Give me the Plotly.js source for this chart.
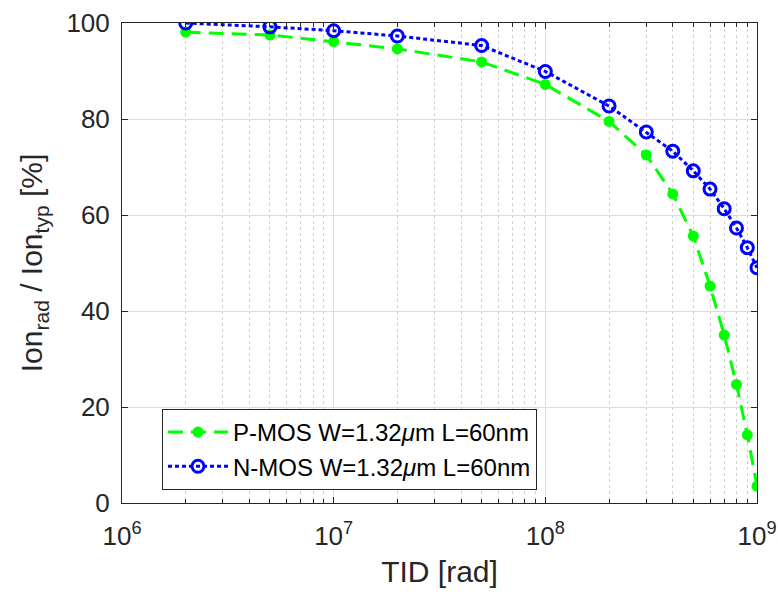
<!DOCTYPE html>
<html><head><meta charset="utf-8">
<script src="https://cdn.plot.ly/plotly-3.0.1.min.js"></script>
<style>html,body{margin:0;padding:0;background:#fff;}</style>
</head><body>
<div id="chart" style="width:778px;height:597px;"></div>
<script>
const tid = [2e6, 5e6, 1e7, 2e7, 5e7, 1e8, 2e8, 3e8, 4e8, 5e8, 6e8, 7e8, 8e8, 9e8, 1e9];
const pmos = [98.1, 97.5, 96.1, 94.6, 91.9, 87.2, 79.5, 72.5, 64.4, 55.6, 45.2, 35.0, 24.7, 14.2, 3.5];
const nmos = [100.0, 99.2, 98.4, 97.3, 95.3, 89.9, 82.7, 77.3, 73.3, 69.2, 65.4, 61.3, 57.3, 53.2, 49.0];
const xTickVals = [1e6, 1e7, 1e8, 1e9];
const xTickText = ['10<sup>6</sup>', '10<sup>7</sup>', '10<sup>8</sup>', '10<sup>9</sup>'];
const yTickVals = [0, 20, 40, 60, 80, 100];

const font = 'Liberation Sans, Arial, Helvetica, sans-serif';
const traces = [
  {x: tid, y: pmos, type: 'scatter', mode: 'lines+markers',
   name: 'P-MOS W=1.32<i>μ</i>m L=60nm',
   line: {color: '#00ff00', width: 3, dash: '15px,8px'},
   marker: {color: '#00ff00', size: 11, symbol: 'circle'}},
  {x: tid, y: nmos, type: 'scatter', mode: 'lines+markers',
   name: 'N-MOS W=1.32<i>μ</i>m L=60nm',
   line: {color: '#0000ff', width: 3, dash: '4px,3px'},
   marker: {color: '#0000ff', size: 12, symbol: 'circle-open', line: {color: '#0000ff', width: 3}}}
];
const layout = {
  width: 778, height: 597,
  margin: {l: 122, r: 21, t: 23, b: 94},
  paper_bgcolor: '#fff', plot_bgcolor: '#fff',
  font: {family: font, color: '#262626', size: 26},
  showlegend: true,
  legend: {x: 0.063, y: 0.196, xanchor: 'left', yanchor: 'top',
    bgcolor: '#fff', bordercolor: '#262626', borderwidth: 1,
    itemwidth: 60, font: {size: 24, color: '#000'}, tracegroupgap: 0},
  xaxis: {type: 'log', range: [6, 9], tickmode: 'array', tickvals: xTickVals, ticktext: xTickText,
    showline: true, mirror: 'ticks', linecolor: '#262626', linewidth: 1,
    ticks: 'inside', ticklen: 6, tickcolor: '#262626', ticklabelstandoff: 10,
    showgrid: true, gridcolor: '#dcdcdc', gridwidth: 1, zeroline: false,
    minor: {dtick: 'D1', showgrid: true, gridcolor: '#d0d0d0', griddash: 'dot', ticks: 'inside', ticklen: 4, tickcolor: '#262626'},
    tickfont: {size: 26},
    title: {text: 'TID [rad]', font: {size: 30}, standoff: 10}},
  yaxis: {range: [0, 100], tickmode: 'array', tickvals: yTickVals,
    showline: true, mirror: 'ticks', linecolor: '#262626', linewidth: 1,
    ticks: 'inside', ticklen: 6, tickcolor: '#262626', ticklabelstandoff: 6,
    showgrid: true, gridcolor: '#dcdcdc', gridwidth: 1, zeroline: false,
    tickfont: {size: 26},
    title: {text: 'Ion<sub>rad</sub> / Ion<sub>typ</sub> [%]', font: {size: 30}, standoff: 14}}
};
Plotly.newPlot('chart', traces, layout, {displayModeBar: false, staticPlot: true});
</script>
</body></html>
